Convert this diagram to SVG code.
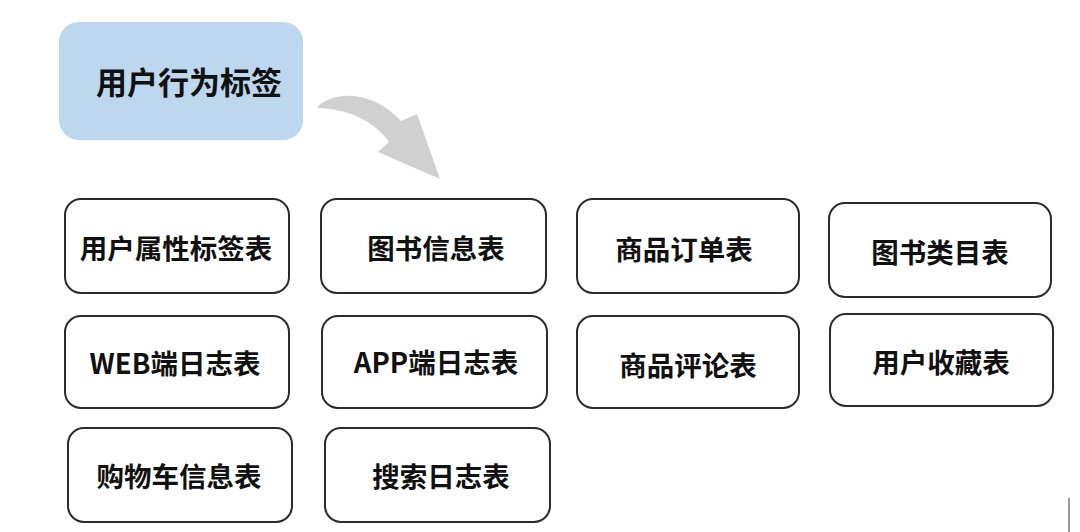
<svg xmlns="http://www.w3.org/2000/svg" width="1080" height="532" viewBox="0 0 1080 532">
  <style>
    .tbl { fill: #ffffff; stroke: #2b2b2b; stroke-width: 2; }
    .lbl { font-family: "Noto Sans CJK SC", "Liberation Sans", sans-serif; font-weight: bold; font-size: 27.5px; fill: #111111; text-anchor: middle; dominant-baseline: central; }
    .title { font-size: 31px; }
  </style>
  <rect width="1080" height="532" fill="#ffffff"/>

  <g id="user-behavior-tag">
    <rect x="59" y="22" width="244" height="118" rx="20" fill="#bdd7ee"/>
    <text class="lbl title" x="189" y="80">用户行为标签</text>
  </g>

  <g id="connectors">
    <path d="M318,106 C336,91 372,90 401,121 L417,114 L440,179 L378,152 L389,142 C375,122 350,109 318,108 Z" fill="#d0d0d0"/>
  </g>

  <g id="user-attr-table">
    <rect class="tbl" x="65" y="199" width="224" height="94" rx="16"/>
    <text class="lbl" x="176" y="247">用户属性标签表</text>
  </g>
  <g id="book-info-table">
    <rect class="tbl" x="321" y="199" width="225" height="94" rx="16"/>
    <text class="lbl" x="436" y="247">图书信息表</text>
  </g>
  <g id="order-table">
    <rect class="tbl" x="577" y="199" width="222" height="94" rx="16"/>
    <text class="lbl" x="684" y="248">商品订单表</text>
  </g>
  <g id="book-category-table">
    <rect class="tbl" x="829" y="203" width="222" height="94" rx="16"/>
    <text class="lbl" x="940" y="251">图书类目表</text>
  </g>

  <g id="web-log-table">
    <rect class="tbl" x="65" y="316" width="224" height="92" rx="16"/>
    <text class="lbl" x="175" y="362">WEB端日志表</text>
  </g>
  <g id="app-log-table">
    <rect class="tbl" x="322" y="316" width="225" height="92" rx="16"/>
    <text class="lbl" x="436" y="361">APP端日志表</text>
  </g>
  <g id="review-table">
    <rect class="tbl" x="577" y="316" width="222" height="92" rx="16"/>
    <text class="lbl" x="688" y="364">商品评论表</text>
  </g>
  <g id="favorite-table">
    <rect class="tbl" x="830" y="314" width="223" height="92" rx="16"/>
    <text class="lbl" x="941" y="361">用户收藏表</text>
  </g>

  <g id="cart-table">
    <rect class="tbl" x="68" y="428" width="224" height="94" rx="16"/>
    <text class="lbl" x="179" y="475">购物车信息表</text>
  </g>
  <g id="search-log-table">
    <rect class="tbl" x="325" y="428" width="225" height="94" rx="16"/>
    <text class="lbl" x="441" y="475">搜索日志表</text>
  </g>

  <line x1="1069" y1="498" x2="1069" y2="532" stroke="#333333" stroke-width="1"/>
</svg>
